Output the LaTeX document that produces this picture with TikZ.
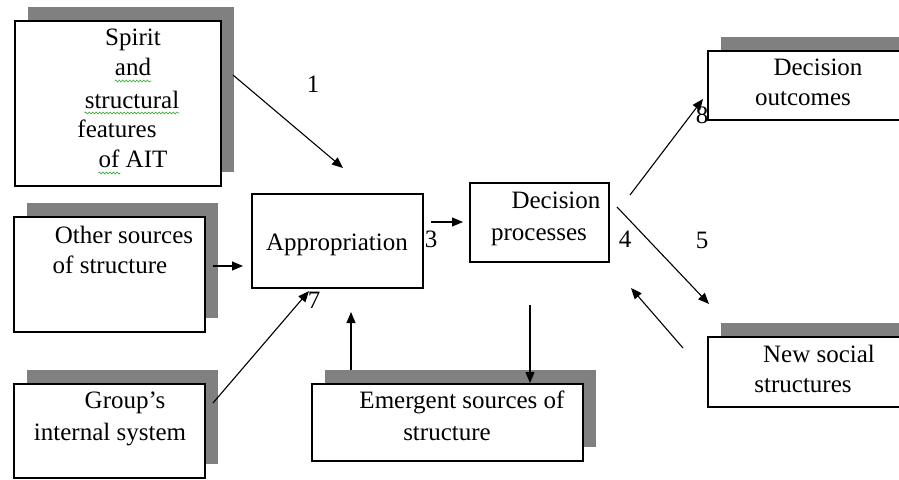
\documentclass[tikz,border=0pt]{standalone}
\usepackage{fontspec}
\setmainfont{Liberation Serif}
\usetikzlibrary{arrows.meta,shadows,decorations.pathmorphing}
\definecolor{shadowgray}{RGB}{128,128,128}
\definecolor{squiggle}{RGB}{40,170,40}
\begin{document}
\begin{tikzpicture}[x=1pt,y=-1pt,
  box/.style={draw=black, fill=white, line width=1.4pt, rectangle, inner sep=0pt},
  shadowbox/.style={box, general shadow={draw=none, fill=shadowgray, shadow xshift=13pt, shadow yshift=14pt}},
  lbl/.style={anchor=base, inner sep=0pt, font=\fontsize{25}{30}\selectfont},
  conn/.style={line width=1.1pt, -{Triangle[length=11pt,width=9pt]}},
  spell/.style={draw=squiggle, line width=0.6pt, decorate,
    decoration={snake, amplitude=1pt, segment length=3.5pt}}
]
\useasboundingbox (0,0) rectangle (899,479);
\clip (0,0) rectangle (899,479);

% boxes
\node[shadowbox, minimum width=206pt, minimum height=165pt] (spirit)   at (118,103.5) {};
\node[shadowbox, minimum width=191pt, minimum height=115pt] (other)    at (109.5,274.5) {};
\node[shadowbox, minimum width=191pt, minimum height=94pt]  (group)    at (109.5,431) {};
\node[box,       minimum width=171pt, minimum height=94pt]  (approp)   at (337.5,241) {};
\node[box,       minimum width=139pt, minimum height=79pt]  (decproc)  at (539.5,222.5) {};
\node[shadowbox, minimum width=271pt, minimum height=77pt]  (emergent) at (447.5,422.5) {};
\node[shadowbox, minimum width=215pt, minimum height=69pt]  (outcomes) at (815.5,85.5) {};
\node[shadowbox, minimum width=215pt, minimum height=70pt]  (newsoc)   at (815.5,372) {};

% box texts
\node[lbl] (tSpirit) at (133,45)  {Spirit};
\node[lbl] (tAnd)    at (133,75)  {and};
\node[lbl] (tStruct) at (132,108) {structural};
\node[lbl] (tFeat)   at (117,137) {features};
\node[lbl] (tAIT)    at (133,167) {of AIT};

\node[lbl] (tOther1) at (124,243) {Other sources};
\node[lbl] (tOther2) at (110,273) {of structure};

\node[lbl] (tApprop) at (337,250) {Appropriation};

\node[lbl] (tDec1)   at (556,208) {Decision};
\node[lbl] (tDec2)   at (539,240) {processes};

\node[lbl] (tGroup1) at (125,408) {Group’s};
\node[lbl] (tGroup2) at (110,440) {internal system};

\node[lbl] (tEmer1)  at (462,408) {Emergent sources of};
\node[lbl] (tEmer2)  at (447,440) {structure};

\node[lbl] (tOut1)   at (818,75)  {Decision};
\node[lbl] (tOut2)   at (803,105) {outcomes};

\node[lbl] (tNew1)   at (819,362) {New social};
\node[lbl] (tNew2)   at (803,392) {structures};

% wavy underlines
\draw[spell] ([yshift=-6pt]tAnd.base west) -- ([yshift=-6pt]tAnd.base east);
\draw[spell] ([yshift=-5pt]tStruct.base west) -- ([yshift=-5pt]tStruct.base east);
\draw[spell] ([yshift=-6pt]tAIT.base west) -- ++(22,0);

% arrow end points
\coordinate (a1s) at (233,75);   \coordinate (a1e) at (343,168);
\coordinate (a2s) at (213,266);  \coordinate (a2e) at (243,266);
\coordinate (a3s) at (431,222);  \coordinate (a3e) at (463,222);
\coordinate (a7s) at (213,403);  \coordinate (a7e) at (309,291);
\coordinate (aUs) at (351,370);  \coordinate (aUe) at (351,312);
\coordinate (aDs) at (530,305);  \coordinate (aDe) at (530,383);
\coordinate (a8s) at (630,195);  \coordinate (a8e) at (703,99);
\coordinate (a5s) at (617,207);  \coordinate (a5e) at (709,304);
\coordinate (aBs) at (683,348);  \coordinate (aBe) at (631,288);

\draw[conn] (a1s) -- (a1e);
\draw[conn] (a2s) -- (a2e);
\draw[conn] (a3s) -- (a3e);
\draw[conn] (a7s) -- (a7e);
\draw[conn] (aUs) -- (aUe);
\draw[conn] (aDs) -- (aDe);
\draw[conn] (a8s) -- (a8e);
\draw[conn] (a5s) -- (a5e);
\draw[conn] (aBs) -- (aBe);

% numbers
\node[lbl] (n1) at (313,92)  {1};
\node[lbl] (n3) at (431,247) {3};
\node[lbl] (n4) at (625,247) {4};
\node[lbl] (n5) at (702,248) {5};
\node[lbl] (n7) at (314,308) {7};
\node[lbl] (n8) at (702,123) {8};
\end{tikzpicture}
\end{document}
